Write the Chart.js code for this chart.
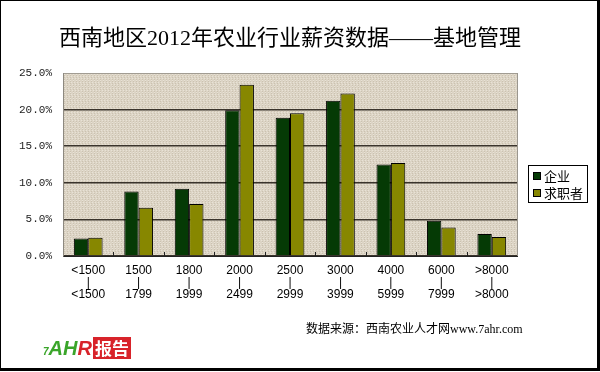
<!DOCTYPE html>
<html>
<head>
<meta charset="utf-8">
<script src="https://cdn.jsdelivr.net/npm/chart.js@4.4.0/dist/chart.umd.min.js"></script>
<style>
  html, body { margin:0; padding:0; background:#fff; }
  #wrap { position:relative; width:600px; height:372px; overflow:hidden; }
  #frame { position:absolute; left:0; top:0; width:600px; height:371px; box-sizing:border-box;
           border-left:1px solid #000; border-top:1px solid #000; border-right:3px solid #000; border-bottom:3px solid #000; pointer-events:none; }
  #title { position:absolute; left:0; width:580px; top:19px; line-height:32px; text-align:center; font:22px "Liberation Serif", "Noto Sans CJK SC"; color:#000; }
  #source { position:absolute; left:306px; top:319px; line-height:18px; font:12px "Liberation Serif", "Noto Sans CJK SC"; color:#000; white-space:nowrap; }
  #logo { position:absolute; left:43px; top:337px; height:22px; white-space:nowrap; font:bold italic 20px "Liberation Sans"; }
  #logo .g { color:#3aa52a; }
  #logo .r { color:#d8232a; }
  #logo .box { display:inline-block; background:#d8232a; color:#fff; font:bold normal 17px "Noto Sans CJK SC"; padding:0 2px; line-height:22px; vertical-align:top; margin-left:1px; }
  canvas { position:absolute; left:0; top:0; }
</style>
</head>
<body>
<div id="wrap">
  <canvas id="c" width="600" height="372"></canvas>
  <div id="title">西南地区2012年农业行业薪资数据——基地管理</div>
  <div id="source">数据来源：西南农业人才网www.7ahr.com</div>
  <div id="logo"><span class="g" style="font-size:10px">7</span><span class="g">AH</span><span class="r">R</span><span class="box">报告</span></div>
  <div id="frame"></div>
</div>
<script>
// salary bands (yuan / month)
const lowLabels  = ['<1500', '1500', '1800', '2000', '2500', '3000', '4000', '6000', '>8000'];
const highLabels = ['<1500', '1799', '1999', '2499', '2999', '3999', '5999', '7999', '>8000'];
// percentage values
const qiye    = [2.4, 8.8, 9.2, 19.9, 18.9, 21.2, 12.5, 4.8, 3.0];   // 企业
const qiuzhi  = [2.5, 6.6, 7.1, 23.4, 19.5, 22.2, 12.7, 3.9, 2.6];  // 求职者
const seriesNames = ['企业', '求职者'];
const yTicks = [0, 5, 10, 15, 20, 25];

var labels = lowLabels.map((lo, i) => [lo, '|', highLabels[i]]);

// linen-like fill for the plot area
function linenPattern(ctx) {
  var p = document.createElement('canvas');
  p.width = 6; p.height = 6;
  var g = p.getContext('2d');
  g.fillStyle = '#dcd4c5';
  g.fillRect(0, 0, 6, 6);
  for (var x = 0; x < 6; x++) {
    for (var y = 0; y < 6; y++) {
      if (y % 2 == 0 && (x + y) % 3 == 0) { g.fillStyle = '#e8e2d6'; g.fillRect(x, y, 1, 1); }
      if (x % 3 == 1 && y % 2 == 1) { g.fillStyle = '#cbc2b0'; g.fillRect(x, y, 1, 1); }
    }
  }
  return ctx.createPattern(p, 'repeat');
}

const plotDeco = {
  id: 'plotDeco',
  beforeDraw(chart) {
    var a = chart.chartArea, ctx = chart.ctx;
    ctx.save();
    ctx.fillStyle = linenPattern(ctx);
    ctx.fillRect(a.left, a.top, a.right - a.left, a.bottom - a.top);
    ctx.restore();
  },
  afterDraw(chart) {
    var a = chart.chartArea, ctx = chart.ctx, xs = chart.scales.x;
    ctx.save();
    // right edge
    ctx.strokeStyle = '#9a968e';
    ctx.lineWidth = 1;
    ctx.beginPath();
    ctx.moveTo(a.right + 0.5, a.top);
    ctx.lineTo(a.right + 0.5, a.bottom);
    ctx.stroke();
    // small inner ticks between the categories
    ctx.strokeStyle = '#222';
    for (var i = 1; i < lowLabels.length; i++) {
      var x = Math.round((xs.getPixelForValue(i - 1) + xs.getPixelForValue(i)) / 2) + 0.5;
      ctx.beginPath();
      ctx.moveTo(x, a.bottom);
      ctx.lineTo(x, a.bottom - 4);
      ctx.stroke();
    }
    // legend box
    var lx = 528, ly = 165, lw = 59, lh = 37;
    ctx.fillStyle = '#fff';
    ctx.fillRect(lx, ly, lw, lh);
    ctx.strokeStyle = '#000';
    ctx.strokeRect(lx + 0.5, ly + 0.5, lw, lh);
    ctx.font = '13px "Noto Sans CJK SC"';
    ctx.textBaseline = 'middle';
    chart.data.datasets.forEach((ds, k) => {
      var cy = ly + 11 + k * 17;
      ctx.fillStyle = ds.backgroundColor;
      ctx.fillRect(lx + 5, cy - 4, 8, 8);
      ctx.strokeStyle = '#000';
      ctx.strokeRect(lx + 5.5, cy - 3.5, 7, 7);
      ctx.fillStyle = '#000';
      ctx.fillText(ds.label, lx + 16, cy);
    });
    ctx.restore();
  }
};

new Chart(document.getElementById('c'), {
  type: 'bar',
  data: {
    labels: labels,
    datasets: [
      { label: seriesNames[0], data: qiye,   backgroundColor: '#053a05', borderColor: '#000', borderWidth: 1 },
      { label: seriesNames[1], data: qiuzhi, backgroundColor: '#878700', borderColor: '#000', borderWidth: 1 }
    ]
  },
  options: {
    responsive: false,
    animation: false,
    layout: { padding: { top: 73, right: 83, bottom: 0, left: 0 } },
    datasets: { bar: { categoryPercentage: 0.57, barPercentage: 1 } },
    plugins: { legend: { display: false }, tooltip: { enabled: false } },
    scales: {
      x: {
        grid: { display: false, drawTicks: false },
        border: { display: true, color: '#222', width: 1 },
        ticks: { color: '#000', font: { family: 'Liberation Sans', size: 12, lineHeight: 1.0 }, padding: 9, maxRotation: 0, autoSkip: false },
        afterFit: s => { s.height = 116; }
      },
      y: {
        min: 0, max: 25,
        afterBuildTicks: s => { s.ticks = yTicks.map(v => ({ value: v })); },
        grid: {
          drawTicks: false,
          color: c => (c.tick && c.tick.value === 25) ? '#a19c92' : '#3a342c',
          lineWidth: c => (c.tick && c.tick.value === 25) ? 1 : 1.5
        },
        border: { display: true, color: '#8d8980', width: 1 },
        ticks: { color: '#222', font: { family: 'Liberation Mono', size: 11 }, padding: 11, callback: v => v.toFixed(1) + '%' },
        afterFit: s => { s.width = 63; }
      }
    }
  },
  plugins: [plotDeco]
});
</script>
</body>
</html>
